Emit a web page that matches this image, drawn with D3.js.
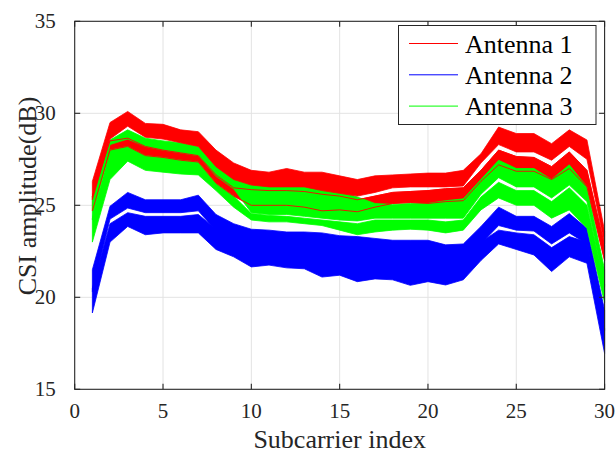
<!DOCTYPE html>
<html>
<head>
<meta charset="utf-8">
<script src="https://cdn.jsdelivr.net/npm/d3@7"></script>
<style>
  body { margin: 0; background: #fff; }
</style>
</head>
<body>
<div id="chart"></div>
<script>
const width = 615;
const height = 453;
const margin = { left: 74.7, right: 10.4, top: 21.3, bottom: 63.7 };
const fontFamily = 'Liberation Serif';

// subcarrier index 1..30
const subcarriers = [1, 2, 3, 4, 5, 6, 7, 8, 9, 10, 11, 12, 13, 14, 15,
  16, 17, 18, 19, 20, 21, 22, 23, 24, 25, 26, 27, 28, 29, 30];

const xTicks = [0, 5, 10, 15, 20, 25, 30];
const yTicks = [15, 20, 25, 30, 35];

// Antenna 1 (red): upper dense group and lower thin group, top/bottom edges in dB
const ant1HiTop = [26.3, 29.5, 30.1, 29.45, 29.4, 29.1, 29.0, 28.0, 27.3, 26.9, 26.8, 27.0, 26.8, 26.8, 26.6,
  26.4, 26.6, 26.65, 26.7, 26.75, 26.75, 26.9, 27.8, 29.25, 28.9, 28.9, 28.35, 29.1, 28.55, 23.6];
const ant1HiBot = [25.3, 28.6, 29.3, 28.7, 28.6, 28.4, 28.2, 27.1, 26.4, 26.1, 26.0, 26.0, 26.0, 25.8, 25.65,
  25.5, 25.7, 25.95, 26.0, 26.0, 26.0, 26.05, 27.3, 28.3, 27.9, 27.9, 27.45, 28.2, 27.5, 22.9];
const ant1LoTop = [25.5, 28.5, 28.65, 28.2, 28.0, 27.85, 27.7, 26.65, 25.95, 25.85, 25.8, 25.8, 25.75, 25.6, 25.5,
  25.3, 25.5, 25.7, 25.75, 25.8, 25.9, 25.95, 26.9, 28.0, 27.65, 27.6, 27.1, 27.9, 26.9, 22.8];
const ant1LoBot = [24.7, 28.0, 28.2, 27.7, 27.6, 27.45, 27.35, 26.2, 25.5, 25.0, 25.0, 25.0, 24.9, 24.7, 24.75,
  24.65, 24.9, 25.1, 25.15, 25.1, 25.2, 25.25, 26.3, 27.2, 26.85, 26.85, 26.4, 27.0, 26.0, 22.0];

// Antenna 2 (blue)
const ant2HiTop = [21.5, 24.95, 25.7, 25.3, 25.3, 25.3, 25.55, 24.5, 24.0, 23.7, 23.65, 23.55, 23.55, 23.5, 23.35,
  23.3, 23.2, 23.1, 23.1, 23.1, 22.85, 22.9, 23.85, 24.9, 24.4, 24.4, 23.85, 24.55, 23.75, 19.3];
const ant2HiBot = [20.3, 24.25, 24.85, 24.6, 24.6, 24.6, 24.7, 23.6, 23.2, 22.75, 22.75, 22.7, 22.7, 22.6, 22.55,
  22.5, 22.45, 22.4, 22.35, 22.35, 22.2, 22.3, 22.9, 23.9, 23.65, 23.6, 22.9, 23.5, 22.9, 18.2];
const ant2LoTop = [20.5, 24.0, 24.6, 24.4, 24.4, 24.4, 24.5, 23.7, 23.3, 22.8, 22.8, 22.75, 22.75, 22.65, 22.6,
  22.55, 22.5, 22.45, 22.4, 22.4, 22.25, 22.35, 23.0, 23.65, 23.5, 23.4, 22.7, 23.3, 23.0, 18.3];
const ant2LoBot = [19.15, 23.0, 23.85, 23.4, 23.5, 23.5, 23.5, 22.6, 22.2, 21.65, 21.75, 21.6, 21.55, 21.1, 21.2,
  20.85, 21.0, 20.95, 20.65, 20.85, 20.67, 20.95, 22.0, 22.9, 22.6, 22.3, 21.4, 22.2, 21.85, 16.95];

// Antenna 3 (green)
const ant3HiTop = [25.5, 28.55, 29.1, 28.65, 28.5, 28.4, 28.2, 27.2, 26.5, 26.1, 26.05, 26.05, 26.0, 25.9, 25.75,
  25.45, 25.1, 25.05, 25.1, 25.1, 25.25, 25.35, 26.4, 27.45, 27.0, 27.0, 26.4, 27.2, 26.0, 21.5];
const ant3HiBot = [24.2, 28.3, 28.6, 28.2, 28.0, 27.85, 27.7, 26.6, 25.9, 24.6, 24.5, 24.5, 24.4, 24.3, 24.2,
  24.15, 24.3, 24.3, 24.3, 24.3, 24.3, 24.3, 25.6, 26.5, 26.0, 26.0, 25.4, 26.1, 25.2, 20.6];
const ant3LoTop = [24.3, 28.0, 28.2, 27.7, 27.6, 27.45, 27.35, 26.2, 25.5, 24.55, 24.45, 24.4, 24.3, 24.2, 24.1,
  24.0, 24.2, 24.2, 24.2, 24.2, 24.1, 24.2, 25.45, 26.25, 25.8, 25.8, 25.2, 25.95, 25.0, 20.7];
const ant3LoBot = [23.0, 26.4, 27.4, 26.9, 26.8, 26.7, 26.65, 25.8, 24.9, 24.2, 24.1, 24.1, 24.0, 23.9, 23.65,
  23.4, 23.55, 23.65, 23.7, 23.65, 23.5, 23.65, 24.75, 25.4, 25.0, 25.0, 24.3, 24.75, 23.75, 19.7];

const legendNames = ['Antenna 1', 'Antenna 2', 'Antenna 3'];
const colors = { red: '#ff0000', blue: '#0000ff', green: '#00ff00' };
const axisColor = '#262626';

const svg = d3.select('#chart')
  .append('svg')
  .attr('width', width)
  .attr('height', height);

const x = d3.scaleLinear().domain([0, 30]).range([margin.left, width - margin.right]);
const y = d3.scaleLinear().domain([15, 35]).range([height - margin.bottom, margin.top]);

// grid
svg.append('g')
  .selectAll('line')
  .data(xTicks.slice(1, -1))
  .enter()
  .append('line')
  .attr('x1', d => x(d)).attr('x2', d => x(d))
  .attr('y1', y(15)).attr('y2', y(35))
  .attr('stroke', '#e3e3e3').attr('stroke-width', 1);

svg.append('g')
  .selectAll('line')
  .data(yTicks.slice(1, -1))
  .enter()
  .append('line')
  .attr('x1', x(0)).attr('x2', x(30))
  .attr('y1', d => y(d)).attr('y2', d => y(d))
  .attr('stroke', '#e3e3e3').attr('stroke-width', 1);

/**
 * Draws one group of CSI traces as a filled band between two edges.
 */
function band(top, bot, color) {
  const rows = subcarriers.map((k, i) => ({ k, top: top[i], bot: bot[i] }));
  const area = d3.area()
    .x(d => x(d.k))
    .y0(d => y(d.bot))
    .y1(d => y(d.top));
  svg.append('path')
    .datum(rows)
    .attr('d', area)
    .attr('fill', color)
    .attr('stroke', color)
    .attr('stroke-width', 0.8)
    .attr('stroke-linejoin', 'round');
}

/**
 * Draws a single trace.
 */
function trace(values, color) {
  const line = d3.line()
    .x((d, i) => x(subcarriers[i]))
    .y(d => y(d));
  svg.append('path')
    .datum(values)
    .attr('d', line)
    .attr('fill', 'none')
    .attr('stroke', color)
    .attr('stroke-width', 0.9);
}

band(ant2LoTop, ant2LoBot, colors.blue);
band(ant2HiTop, ant2HiBot, colors.blue);
band(ant1LoTop, ant1LoBot, colors.red);
band(ant3LoTop, ant3LoBot, colors.green);
band(ant3HiTop, ant3HiBot, colors.green);
band(ant1HiTop, ant1HiBot, colors.red);
trace(ant1LoTop, colors.red);
trace(ant1LoBot, colors.red);

// axes box with inward ticks on all sides
const tickLen = 5.5;
const axisG = svg.append('g')
  .attr('stroke', axisColor)
  .attr('stroke-width', 1.1)
  .attr('fill', 'none');

axisG.append('rect')
  .attr('x', x(0)).attr('y', y(35))
  .attr('width', x(30) - x(0)).attr('height', y(15) - y(35));

xTicks.forEach((t) => {
  axisG.append('line').attr('x1', x(t)).attr('x2', x(t))
    .attr('y1', y(15)).attr('y2', y(15) - tickLen);
  axisG.append('line').attr('x1', x(t)).attr('x2', x(t))
    .attr('y1', y(35)).attr('y2', y(35) + tickLen);
});
yTicks.forEach((t) => {
  axisG.append('line').attr('x1', x(0)).attr('x2', x(0) + tickLen)
    .attr('y1', y(t)).attr('y2', y(t));
  axisG.append('line').attr('x1', x(30)).attr('x2', x(30) - tickLen)
    .attr('y1', y(t)).attr('y2', y(t));
});

svg.append('g')
  .selectAll('text')
  .data(xTicks)
  .enter()
  .append('text')
  .attr('x', d => x(d))
  .attr('y', y(15) + 29)
  .attr('text-anchor', 'middle')
  .attr('font-family', fontFamily)
  .attr('font-size', 21)
  .attr('fill', axisColor)
  .text(d => d);

svg.append('g')
  .selectAll('text')
  .data(yTicks)
  .enter()
  .append('text')
  .attr('x', x(0) - 19)
  .attr('y', d => y(d) + 7)
  .attr('text-anchor', 'end')
  .attr('font-family', fontFamily)
  .attr('font-size', 21)
  .attr('fill', axisColor)
  .text(d => d);

svg.append('text')
  .attr('x', (x(0) + x(30)) / 2)
  .attr('y', 448)
  .attr('text-anchor', 'middle')
  .attr('font-family', fontFamily)
  .attr('font-size', 26)
  .attr('fill', axisColor)
  .text('Subcarrier index');

svg.append('text')
  .attr('transform', 'translate(36, 196) rotate(-90)')
  .attr('text-anchor', 'middle')
  .attr('font-family', fontFamily)
  .attr('font-size', 26)
  .attr('fill', axisColor)
  .text('CSI amplitude(dB)');

// legend
const legend = svg.append('g');
legend.append('rect')
  .attr('x', 398.5).attr('y', 25.5)
  .attr('width', 197.5).attr('height', 99)
  .attr('fill', '#fff')
  .attr('stroke', axisColor)
  .attr('stroke-width', 1);

const legendColors = [colors.red, colors.blue, colors.green];
legendNames.forEach((name, i) => {
  const ly = 43.5 + i * 31.3;
  legend.append('line')
    .attr('x1', 409).attr('x2', 458)
    .attr('y1', ly).attr('y2', ly)
    .attr('stroke', legendColors[i])
    .attr('stroke-width', 1);
  legend.append('text')
    .attr('x', 465)
    .attr('y', ly + 9.3)
    .attr('font-family', fontFamily)
    .attr('font-size', 26)
    .attr('fill', '#000')
    .text(name);
});
</script>
</body>
</html>
